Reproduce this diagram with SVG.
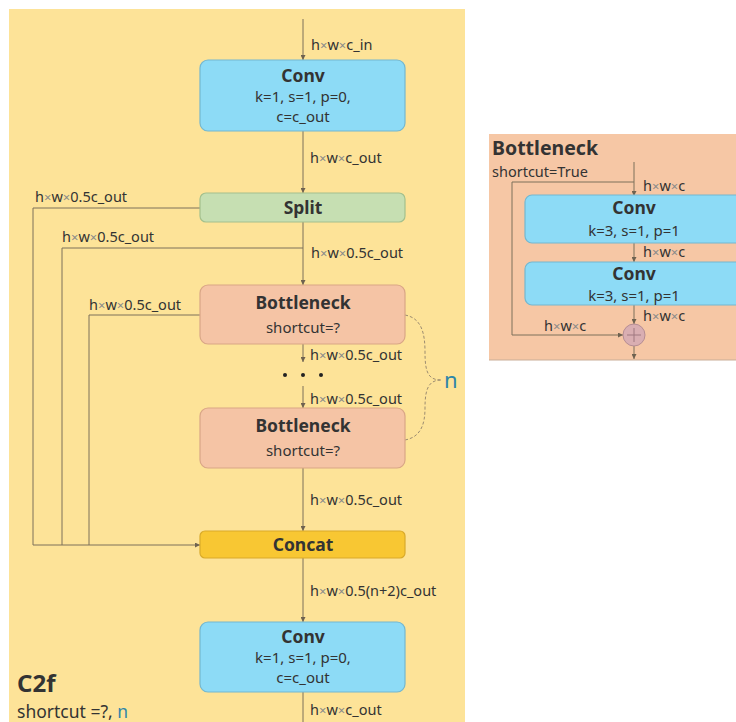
<svg xmlns="http://www.w3.org/2000/svg" width="736" height="722" viewBox="0 0 736 722">
<defs>
<marker id="ah" viewBox="0 0 6 6" refX="6" refY="3" markerWidth="5" markerHeight="5" orient="auto" markerUnits="userSpaceOnUse">
<path d="M0,0 L6,3 L0,6 z" fill="#6e6250"/>
</marker>
<style>
text{font-family:"Noto Sans","Open Sans","Liberation Sans",sans-serif;fill:#333}
.lbl{font-size:14.5px}
.x{fill:#8a8a8a;font-size:13px}
.t{font-size:17.5px;font-weight:bold;text-anchor:middle}
.s{font-size:15px;text-anchor:middle}
.ln{fill:none;stroke:#7d705a;stroke-width:1}
.conv{fill:#8ddbf6;stroke:#74b7cf;stroke-width:1.2}
.split{fill:#c6dfb2;stroke:#a3c08d;stroke-width:1.2}
.bn{fill:#f5c4a5;stroke:#d9a686;stroke-width:1.2}
.cat{fill:#f8c733;stroke:#d9aa2a;stroke-width:1.2}
</style>
</defs>
<rect x="9" y="9" width="456" height="713" fill="#fde398"/>
<rect x="489" y="134" width="247" height="226" fill="#f6c7a5"/>
<line x1="489" y1="360" x2="736" y2="360" stroke="#c9ad97" stroke-width="1"/>

<g id="connectors">
<line class="ln" x1="303" y1="19" x2="303" y2="60" marker-end="url(#ah)"/>
<line class="ln" x1="303" y1="131" x2="303" y2="193" marker-end="url(#ah)"/>
<line class="ln" x1="303" y1="222" x2="303" y2="285" marker-end="url(#ah)"/>
<line class="ln" x1="303" y1="344" x2="303" y2="362" marker-end="url(#ah)"/>
<line class="ln" x1="303" y1="386" x2="303" y2="408" marker-end="url(#ah)"/>
<line class="ln" x1="303" y1="468" x2="303" y2="531" marker-end="url(#ah)"/>
<line class="ln" x1="303" y1="558" x2="303" y2="622" marker-end="url(#ah)"/>
<line class="ln" x1="303" y1="692" x2="303" y2="722"/>
<path class="ln" d="M200,208 H33 V545 H200" marker-end="url(#ah)"/>
<path class="ln" d="M303,248 H62 V545"/>
<path class="ln" d="M200,315 H89 V545"/>
<path d="M405,315 C421,318 425,332 425,352 C425,372 428,380 441,380 M405,440 C421,437 425,424 425,408 C425,390 428,380 441,380" fill="none" stroke="#9c8c70" stroke-width="1" stroke-dasharray="3,2"/>
<line class="ln" x1="634" y1="162" x2="634" y2="196" marker-end="url(#ah)"/>
<path class="ln" d="M634,182 H512 V335 H623" marker-end="url(#ah)"/>
<line class="ln" x1="634" y1="243" x2="634" y2="262" marker-end="url(#ah)"/>
<line class="ln" x1="634" y1="305" x2="634" y2="324" marker-end="url(#ah)"/>
<line class="ln" x1="634" y1="346" x2="634" y2="359" marker-end="url(#ah)"/>
</g>

<g id="labels">
<text class="lbl" x="311" y="50">h<tspan class="x">×</tspan>w<tspan class="x">×</tspan>c_in</text>
<text class="lbl" x="310" y="163">h<tspan class="x">×</tspan>w<tspan class="x">×</tspan>c_out</text>
<text class="lbl" x="35" y="202">h<tspan class="x">×</tspan>w<tspan class="x">×</tspan>0.5c_out</text>
<text class="lbl" x="62" y="242">h<tspan class="x">×</tspan>w<tspan class="x">×</tspan>0.5c_out</text>
<text class="lbl" x="311" y="258">h<tspan class="x">×</tspan>w<tspan class="x">×</tspan>0.5c_out</text>
<text class="lbl" x="89" y="310">h<tspan class="x">×</tspan>w<tspan class="x">×</tspan>0.5c_out</text>
<text class="lbl" x="310" y="360">h<tspan class="x">×</tspan>w<tspan class="x">×</tspan>0.5c_out</text>
<text class="lbl" x="310" y="404">h<tspan class="x">×</tspan>w<tspan class="x">×</tspan>0.5c_out</text>
<text class="lbl" x="310" y="505">h<tspan class="x">×</tspan>w<tspan class="x">×</tspan>0.5c_out</text>
<text class="lbl" x="310" y="596">h<tspan class="x">×</tspan>w<tspan class="x">×</tspan>0.5(n+2)c_out</text>
<text class="lbl" x="310" y="715">h<tspan class="x">×</tspan>w<tspan class="x">×</tspan>c_out</text>
<circle cx="285" cy="375" r="2" fill="#222"/>
<circle cx="303" cy="375" r="2" fill="#222"/>
<circle cx="321" cy="375" r="2" fill="#222"/>
<text x="444" y="388" style="font-size:22px;fill:#2f86a8">n</text>
<text x="17" y="692" style="font-size:24px;font-weight:bold">C2f</text>
<text x="17" y="718" style="font-size:17.5px">shortcut =?, <tspan style="fill:#2f86a8">n</tspan></text>
<text x="492" y="155" style="font-size:19.5px;font-weight:bold">Bottleneck</text>
<text x="492" y="177" style="font-size:14.5px">shortcut=True</text>
<text class="lbl" x="643" y="191">h<tspan class="x">×</tspan>w<tspan class="x">×</tspan>c</text>
<text class="lbl" x="643" y="257">h<tspan class="x">×</tspan>w<tspan class="x">×</tspan>c</text>
<text class="lbl" x="643" y="321">h<tspan class="x">×</tspan>w<tspan class="x">×</tspan>c</text>
<text class="lbl" x="544" y="331">h<tspan class="x">×</tspan>w<tspan class="x">×</tspan>c</text>
</g>

<g id="conv1">
<rect class="conv" x="200" y="60" width="205" height="71" rx="8"/>
<text class="t" x="303" y="82">Conv</text>
<text class="s" x="303" y="102">k=1, s=1, p=0,</text>
<text class="s" x="303" y="122">c=c_out</text>
</g>
<g id="split">
<rect class="split" x="200" y="193" width="205" height="29" rx="6"/>
<text class="t" x="303" y="214">Split</text>
</g>
<g id="bottleneck1">
<rect class="bn" x="200" y="285" width="205" height="59" rx="8"/>
<text class="t" x="303" y="309">Bottleneck</text>
<text class="s" x="303" y="333">shortcut=?</text>
</g>
<g id="bottleneck2">
<rect class="bn" x="200" y="408" width="205" height="60" rx="8"/>
<text class="t" x="303" y="432">Bottleneck</text>
<text class="s" x="303" y="456">shortcut=?</text>
</g>
<g id="concat">
<rect class="cat" x="200" y="531" width="205" height="27" rx="5"/>
<text class="t" x="303" y="551">Concat</text>
</g>
<g id="conv2">
<rect class="conv" x="200" y="622" width="205" height="70" rx="8"/>
<text class="t" x="303" y="643">Conv</text>
<text class="s" x="303" y="663">k=1, s=1, p=0,</text>
<text class="s" x="303" y="683">c=c_out</text>
</g>
<g id="bconv1">
<rect class="conv" x="525" y="195" width="225" height="48" rx="7"/>
<text class="t" x="634" y="214">Conv</text>
<text class="s" x="634" y="236">k=3, s=1, p=1</text>
</g>
<g id="bconv2">
<rect class="conv" x="525" y="262" width="225" height="43" rx="7"/>
<text class="t" x="634" y="280">Conv</text>
<text class="s" x="634" y="301">k=3, s=1, p=1</text>
</g>
<g id="add">
<circle cx="634" cy="335" r="11" fill="#d9aeb2" stroke="#b58d93" stroke-width="1"/>
<path d="M627,335 H641 M634,328 V342" stroke="#a07880" stroke-width="1"/>
</g>
</svg>
